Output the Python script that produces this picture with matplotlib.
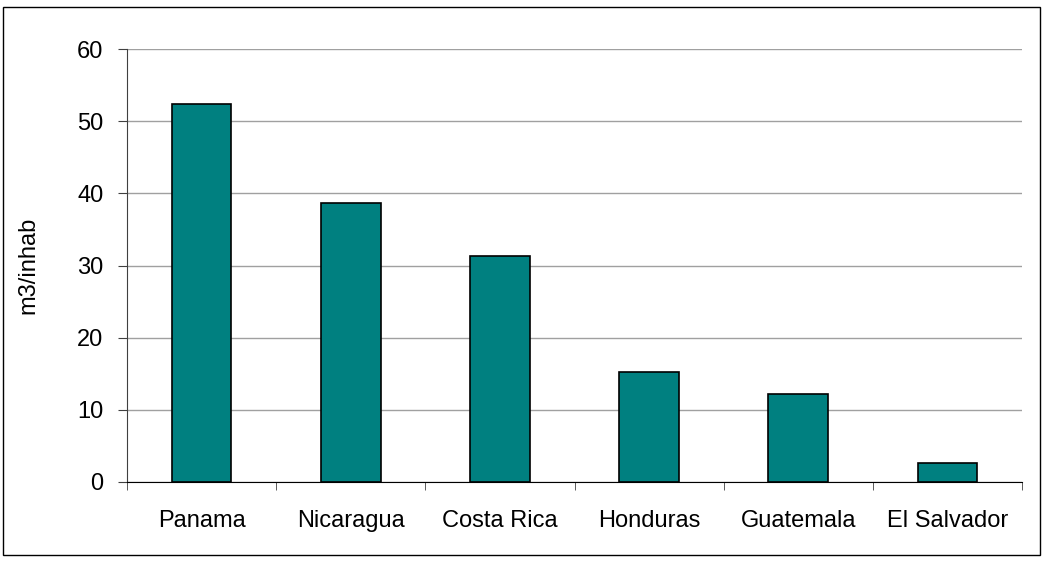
import matplotlib.pyplot as plt
import matplotlib.patches as patches
import numpy as np

paises = ['Panama', 'Nicaragua', 'Costa Rica', 'Honduras', 'Guatemala', 'El Salvador']
valores = [52.4, 38.7, 31.3, 15.2, 12.2, 2.7]

plt.rcParams['font.family'] = ['Liberation Sans', 'DejaVu Sans']

fig = plt.figure(figsize=(10.44, 5.61), dpi=100)
ax = fig.add_axes([127 / 1044, 1 - 482 / 561, 895 / 1044, 433 / 561])

x = np.arange(len(paises))
ax.bar(x, valores, width=0.4, color='#008080', edgecolor='black', linewidth=1.2, zorder=3)

ax.set_xlim(-0.5, len(paises) - 0.5)
ax.set_ylim(0, 60)
ax.set_yticks(range(0, 61, 10))
ax.yaxis.grid(True, color='#a0a0a0', linewidth=1, zorder=0)

# etiqueta eje y
fig.text(28 / 1044, 1 - 265 / 561, 'm3/inhab', rotation=90, ha='center', va='center', fontsize=17)

# etiquetas centradas, ticks entre categorias
ax.set_xticks(x)
ax.set_xticklabels(paises, fontsize=17)
ax.tick_params(axis='x', length=0, pad=20)
ax.set_xticks(np.arange(-0.5, len(paises)), minor=True)
ax.tick_params(axis='x', which='minor', length=6, direction='out', color='#404040')
ax.tick_params(axis='y', labelsize=17, length=6.5, direction='out', color='#404040', pad=10.5)

for s in ['top', 'right']:
    ax.spines[s].set_visible(False)
ax.spines['left'].set_color('#404040')
ax.spines['bottom'].set_color('black')

# marco exterior
fig.patches.append(patches.Rectangle((3 / 1044, 6 / 561), 1037 / 1044, 548 / 561,
                                     transform=fig.transFigure, fill=False,
                                     edgecolor='black', linewidth=1))

plt.savefig('out.png', dpi=100)
